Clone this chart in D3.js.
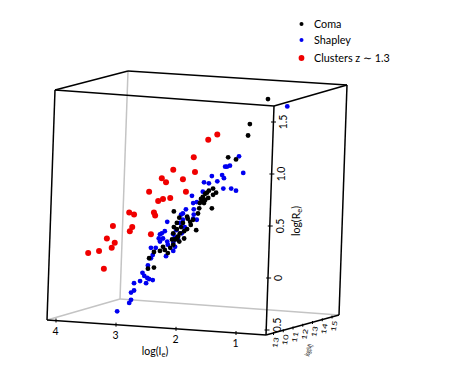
<!DOCTYPE html>
<html>
<head>
<meta charset="utf-8">
<script src="https://cdnjs.cloudflare.com/ajax/libs/d3/7.8.5/d3.min.js"></script>
<style>
  body { margin: 0; background: #fff; }
  text { font-family: Lato, "DejaVu Sans", sans-serif; fill: #000; }
</style>
</head>
<body>
<svg id="chart" width="452" height="379"></svg>
<script>
// values as seen through the box: logIe across, logRe up
var comaIe = [0.47, 0.77, 0.80, 1.13, 1.00, 1.38, 1.45, 1.48, 1.33, 1.38, 1.55, 1.51, 1.56, 1.60, 1.53, 1.40, 2.03, 1.63, 1.81, 1.94, 1.71, 1.80, 1.98, 1.88, 2.03, 1.75, 1.66, 1.81, 1.98, 2.04, 1.93, 1.98, 1.86, 1.94, 2.04, 2.09, 2.18, 2.26, 2.21, 2.36, 2.13, 2.44, 2.36, 2.46, 1.91, 1.86, 2.01, 1.76, 1.51, 1.46, 1.96, 2.06, 1.61, 1.58];
var comaRe = [1.72, 1.48, 1.37, 1.16, 1.14, 0.86, 0.84, 0.82, 0.82, 0.80, 0.78, 0.75, 0.74, 0.72, 0.72, 0.67, 0.64, 0.62, 0.59, 0.58, 0.56, 0.57, 0.53, 0.53, 0.49, 0.51, 0.46, 0.47, 0.47, 0.43, 0.43, 0.38, 0.38, 0.35, 0.32, 0.29, 0.27, 0.26, 0.30, 0.25, 0.24, 0.19, 0.10, 0.09, 0.49, 0.45, 0.37, 0.54, 0.81, 0.77, 0.40, 0.37, 0.67, 0.76];

var shapleyIe = [0.15, 0.95, 1.18, 1.15, 1.10, 0.88, 1.23, 1.20, 1.40, 1.53, 1.45, 1.31, 1.21, 1.08, 1.00, 1.73, 1.55, 1.71, 1.65, 1.83, 1.70, 1.88, 1.91, 1.70, 1.65, 1.71, 2.14, 1.88, 1.93, 1.85, 1.99, 1.90, 2.18, 2.26, 2.28, 2.21, 2.04, 2.01, 2.14, 2.26, 2.13, 2.04, 1.96, 2.01, 2.41, 2.33, 2.38, 2.41, 2.16, 2.04, 2.23, 2.46, 2.55, 2.52, 2.47, 2.44, 2.38, 2.59, 2.49, 2.69, 2.69, 2.74, 2.74, 2.77, 2.97];
var shapleyRe = [1.65, 1.17, 1.07, 1.07, 1.08, 1.01, 0.99, 0.96, 0.98, 0.92, 0.91, 0.93, 0.86, 0.86, 0.84, 0.79, 0.83, 0.72, 0.73, 0.66, 0.66, 0.62, 0.61, 0.61, 0.56, 0.57, 0.54, 0.56, 0.53, 0.49, 0.46, 0.43, 0.45, 0.42, 0.38, 0.38, 0.42, 0.39, 0.35, 0.35, 0.32, 0.34, 0.37, 0.30, 0.29, 0.29, 0.22, 0.19, 0.21, 0.26, 0.43, 0.12, 0.05, 0.02, 0.00, -0.01, -0.02, -0.03, -0.05, -0.05, -0.12, -0.14, -0.21, -0.24, -0.32];

var clusterIe = [1.31, 1.46, 1.70, 2.04, 2.23, 2.16, 1.88, 1.68, 1.83, 2.44, 2.29, 2.21, 2.09, 2.77, 2.69, 2.36, 2.34, 3.04, 2.72, 2.76, 3.14, 3.01, 3.06, 3.45, 3.27, 3.19, 2.41];
var clusterRe = [1.38, 1.33, 1.16, 1.04, 0.96, 0.92, 0.95, 1.02, 0.83, 0.83, 0.74, 0.76, 0.77, 0.63, 0.61, 0.63, 0.60, 0.50, 0.49, 0.45, 0.38, 0.34, 0.29, 0.24, 0.26, 0.09, 0.42];

var ieTicks = [4, 3, 2, 1];
var reTicks = [-0.5, 0, 0.5, 1, 1.5];
var reLabels = ["0.5", "0", "0.5", "1.0", "1.5"];
var massTicks = [9, 10, 11, 12, 13, 14, 15];
var massLabels = ["13", "10", "11", "12", "13", "14", "15"];

var svg = d3.select("#chart");

// box corners
var fbl = [47, 320], fbr = [266, 335], ftl = [55, 90], ftr = [274, 106],
    bbl = [120, 299], bbr = [339, 315], btl = [128, 71], btr = [347, 85];

var x = d3.scaleLinear().domain([4, 1]).range([55, 236]),
    y = d3.scaleLinear().domain([-0.5, 1.5]).range([330, 122]);

// axis edges of the box
var ieX = d3.scaleLinear().domain([4, 1]).range([56, 236]),
    ieY = d3.scaleLinear().domain([4, 1]).range([320.5, 333]),
    reX = d3.scaleLinear().domain([-0.5, 1.5]).range([267, 273.5]),
    massX = d3.scaleLinear().domain([9, 15]).range([273.5, 332]),
    massY = d3.scaleLinear().domain([9, 15]).range([333.5, 317]);

function edge(a, b, color) {
    svg.append("line")
        .attr("x1", a[0]).attr("y1", a[1])
        .attr("x2", b[0]).attr("y2", b[1])
        .attr("stroke", color)
        .attr("stroke-width", 1.5);
}

// grey back edges first
[[bbl, btl], [bbl, fbl], [bbl, bbr]].forEach(function (e) { edge(e[0], e[1], "#c4c4c4"); });
[[fbl, fbr], [fbr, ftr], [ftr, ftl], [ftl, fbl], [ftl, btl], [btl, btr], [btr, ftr], [btr, bbr], [bbr, fbr]]
    .forEach(function (e) { edge(e[0], e[1], "#000"); });

// ticks
var ticks = svg.append("g").attr("stroke", "#000").attr("stroke-width", 1);

ticks.selectAll(".ie").data(ieTicks).enter().append("line")
    .attr("x1", function (d) { return ieX(d); })
    .attr("x2", function (d) { return ieX(d); })
    .attr("y1", function (d) { return ieY(d) - 2; })
    .attr("y2", function (d) { return ieY(d) + 2; });

ticks.selectAll(".re").data(reTicks).enter().append("line")
    .attr("x1", function (d) { return reX(d) - 2.5; })
    .attr("x2", function (d) { return reX(d) + 2.5; })
    .attr("y1", function (d) { return y(d); })
    .attr("y2", function (d) { return y(d); });

ticks.selectAll(".mass").data(massTicks).enter().append("line")
    .attr("x1", function (d) { return massX(d); })
    .attr("x2", function (d) { return massX(d); })
    .attr("y1", function (d) { return massY(d) - 1.5; })
    .attr("y2", function (d) { return massY(d) + 1.5; });

// tick labels
svg.selectAll(".ielabel").data(ieTicks).enter().append("text")
    .attr("x", function (d) { return ieX(d) - 0.5; })
    .attr("y", function (d) { return ieY(d) + 14; })
    .attr("text-anchor", "middle")
    .attr("font-size", 10.5)
    .text(function (d) { return d; });

svg.selectAll(".relabel").data(reTicks).enter().append("text")
    .attr("transform", function (d) {
        // the lowest label sits a little above its tick
        var shift = d < 0 ? -5 : 0;
        return "translate(" + (reX(d) + 13.5) + "," + (y(d) + shift) + ") rotate(-90)";
    })
    .attr("text-anchor", "middle")
    .attr("font-size", 10.5)
    .text(function (d, i) { return reLabels[i]; });

svg.selectAll(".masslabel").data(massTicks).enter().append("text")
    .attr("transform", function (d) {
        return "translate(" + (massX(d) + 4.5) + "," + (massY(d) + 9.5) + ") rotate(-80) scale(0.9,0.65)";
    })
    .attr("text-anchor", "middle")
    .attr("font-size", 10.5)
    .text(function (d, i) { return massLabels[i]; });

// axis titles
var ieTitle = svg.append("text")
    .attr("x", 155).attr("y", 355)
    .attr("text-anchor", "middle")
    .attr("font-size", 10.5)
    .text("log(I");
ieTitle.append("tspan").attr("dy", 2).attr("font-size", 7.5).text("e");
ieTitle.append("tspan").attr("dy", -2).text(")");

var reTitle = svg.append("text")
    .attr("transform", "translate(300,221) rotate(-90)")
    .attr("text-anchor", "middle")
    .attr("font-size", 10.5)
    .text("log(R");
reTitle.append("tspan").attr("dy", 2).attr("font-size", 7.5).text("e");
reTitle.append("tspan").attr("dy", -2).text(")");

svg.append("text")
    .attr("transform", "translate(311,351) rotate(-70) scale(0.42,0.7)")
    .attr("text-anchor", "middle")
    .attr("font-size", 10.5)
    .text("log(M)");

// points
function dots(xs, ys, color, r) {
    svg.append("g").selectAll("circle").data(xs).enter().append("circle")
        .attr("cx", function (d) { return x(d); })
        .attr("cy", function (d, i) { return y(ys[i]); })
        .attr("r", r)
        .attr("fill", color);
}
dots(shapleyIe, shapleyRe, "#0000f0", 2.4);
dots(comaIe, comaRe, "#000", 2.4);
dots(clusterIe, clusterRe, "#f00000", 3);

// legend
var legendNames = ["Coma", "Shapley", "Clusters z \u223C 1.3"];
var legendColors = ["#000", "#0000f0", "#f00000"];
var legendY = d3.scaleOrdinal().domain(legendNames).range([25, 41, 59]);
var legendR = [2, 2, 2.9];

var legend = svg.append("g").selectAll("g").data(legendNames).enter().append("g")
    .attr("transform", function (d) { return "translate(0," + legendY(d) + ")"; });
legend.append("circle")
    .attr("cx", 301.5)
    .attr("cy", -1)
    .attr("r", function (d, i) { return legendR[i]; })
    .attr("fill", function (d, i) { return legendColors[i]; });
legend.append("text")
    .attr("x", 314)
    .attr("y", 3)
    .attr("font-size", 10.8)
    .text(function (d) { return d; });
</script>
</body>
</html>
